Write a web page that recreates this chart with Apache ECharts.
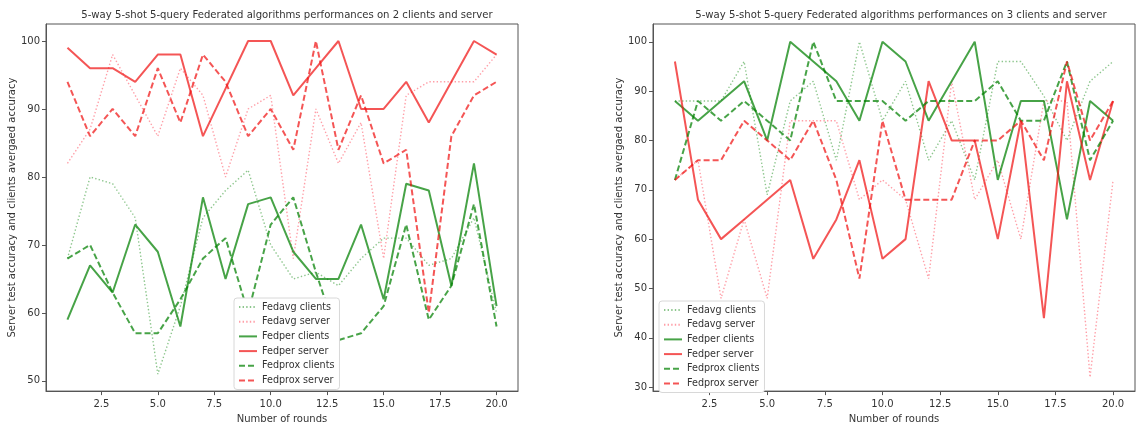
<!DOCTYPE html>
<html>
<head>
<meta charset="utf-8">
<script src="https://cdn.jsdelivr.net/npm/echarts@6/dist/echarts.min.js"></script>
<style>
html,body{margin:0;padding:0;background:#fff;}
#c{width:1136px;height:429px;}
</style>
</head>
<body>
<div id="c"></div>
<script>
// ---- data ----
const rounds = [1,2,3,4,5,6,7,8,9,10,11,12,13,14,15,16,17,18,19,20];
const xTicks = [2.5,5,7.5,10,12.5,15,17.5,20];
const yTicksLeft = [50,60,70,80,90,100];
const yTicksRight = [30,40,50,60,70,80,90,100];
const seriesNames = ['Fedavg clients','Fedavg server','Fedper clients','Fedper server','Fedprox clients','Fedprox server'];

// chart 1: 2 clients and server
const c2FedavgClients = [68,80,79,74,51,61,74,78,81,70,65,66,64,68,71,71,67,68,74,60];
const c2FedavgServer  = [82,87,98,92,86,96,92,80,90,92,68,90,82,88,68,92,94,94,94,98];
const c2FedperClients = [59,67,63,73,69,58,77,65,76,77,69,65,65,73,62,79,78,64,82,61];
const c2FedperServer  = [99,96,96,94,98,98,86,93,100,100,92,96,100,90,90,94,88,94,100,98];
const c2FedproxClients= [68,70,63,57,57,62,68,71,60,73,77,66,56,57,61,73,59,64,76,58];
const c2FedproxServer = [94,86,90,86,96,88,98,94,86,90,84,100,84,92,82,84,60,86,92,94];

// chart 2: 3 clients and server
const c3FedavgClients = [88,88,88,96,69,88,92,76,100,84,92,76,84,72,96,96,89,80,92,96];
const c3FedavgServer  = [72,76,48,64,48,84,84,84,68,72,68,52,92,68,76,60,88,88,32,72];
const c3FedperClients = [88,84,88,92,80,100,96,92,84,100,96,84,92,100,72,88,88,64,88,84];
const c3FedperServer  = [96,68,60,64,68,72,56,64,76,56,60,92,80,80,60,84,44,92,72,88];
const c3FedproxClients= [72,88,84,88,84,80,100,88,88,88,84,88,88,88,92,84,84,96,76,84];
const c3FedproxServer = [72,76,76,84,80,76,84,72,52,84,68,68,68,80,80,84,76,96,80,88];

const titles = [
  '5-way 5-shot 5-query Federated algorithms performances on 2 clients and server',
  '5-way 5-shot 5-query Federated algorithms performances on 3 clients and server'
];

// ---- styles ----
const GREEN = 'rgba(0,128,0,0.72)';
const RED = 'rgba(240,20,20,0.72)';
const styles = {
  'Fedavg clients': {color:'rgba(0,128,0,0.45)', width:1.4, type:[1.4,2.2]},
  'Fedavg server':  {color:'rgba(255,40,60,0.45)', width:1.4, type:[1.4,2.2]},
  'Fedper clients': {color:GREEN, width:2, type:'solid'},
  'Fedper server':  {color:RED, width:2, type:'solid'},
  'Fedprox clients':{color:GREEN, width:2, type:[6,3]},
  'Fedprox server': {color:RED, width:2, type:[6,3]}
};

function makeSeries(gridIdx, arrays){
  return seriesNames.map((n,k)=>({
    name:n, type:'line', xAxisIndex:gridIdx, yAxisIndex:gridIdx,
    symbol:'none', animation:false,
    lineStyle:{color:styles[n].color, width:styles[n].width, type:styles[n].type},
    itemStyle:{color:styles[n].color},
    data: rounds.map((r,i)=>[r, arrays[k][i]])
  }));
}

const grids = [
  {left:46, top:24, width:472, height:370},
  {left:653, top:24, width:482, height:369}
];

const axisCommon = {
  axisLine:{show:true, lineStyle:{color:'#555', width:1}},
  axisTick:{show:true, length:4, lineStyle:{color:'#555'}},
  splitLine:{show:false},
  axisLabel:{color:'#333', fontSize:10, fontFamily:'DejaVu Sans'},
  nameTextStyle:{color:'#333', fontSize:10, fontFamily:'DejaVu Sans'}
};

function xAxis(gi){
  return Object.assign({}, axisCommon, {
    type:'value', gridIndex:gi, min:0.05, max:20.95,
    name:'Number of rounds', nameLocation:'middle', nameGap:20,
    axisTick:Object.assign({}, axisCommon.axisTick, {customValues:xTicks}),
    axisLabel:Object.assign({}, axisCommon.axisLabel, {customValues:xTicks, margin:8, formatter:v=>v.toFixed(1)})
  });
}
function yAxis(gi, min, max, ticks){
  return Object.assign({}, axisCommon, {
    type:'value', gridIndex:gi, min:min, max:max,
    name:'Server test accuracy and clients avergaed accuracy', nameLocation:'middle', nameGap:28,
    axisTick:Object.assign({}, axisCommon.axisTick, {customValues:ticks}),
    axisLabel:Object.assign({}, axisCommon.axisLabel, {customValues:ticks, margin:6})
  });
}

const legendCommon = {
  orient:'vertical', data:seriesNames, itemWidth:18, itemHeight:10, itemGap:4.7,
  backgroundColor:'#fff', borderColor:'#d8d8d8', borderWidth:1, borderRadius:3,
  padding:[4,5,4,4],
  itemStyle:{opacity:0},
  textStyle:{color:'#333', fontSize:9.6, fontFamily:'DejaVu Sans', lineHeight:10},
  selectedMode:false
};

const chart = echarts.init(document.getElementById('c'), null, {renderer:'canvas'});
chart.setOption({
  backgroundColor:'#fff',
  animation:false,
  title:[
    {text:titles[0], left:282, top:5, textAlign:'center', textStyle:{fontSize:10.1, fontWeight:'normal', color:'#333', fontFamily:'DejaVu Sans'}},
    {text:titles[1], left:896, top:5, textAlign:'center', textStyle:{fontSize:10.1, fontWeight:'normal', color:'#333', fontFamily:'DejaVu Sans'}}
  ],
  grid: grids.map(g=>Object.assign({show:true, borderColor:'#555', borderWidth:1, backgroundColor:'#fff'}, g)),
  xAxis:[xAxis(0), xAxis(1)],
  yAxis:[yAxis(0, 48.5, 102.5, yTicksLeft), yAxis(1, 29.2, 103.6, yTicksRight)],
  legend:[
    Object.assign({}, legendCommon, {left:234, top:298}),
    Object.assign({}, legendCommon, {left:659, top:301})
  ],
  series: makeSeries(0,[c2FedavgClients,c2FedavgServer,c2FedperClients,c2FedperServer,c2FedproxClients,c2FedproxServer])
    .concat(makeSeries(1,[c3FedavgClients,c3FedavgServer,c3FedperClients,c3FedperServer,c3FedproxClients,c3FedproxServer]))
});
</script>
</body>
</html>
